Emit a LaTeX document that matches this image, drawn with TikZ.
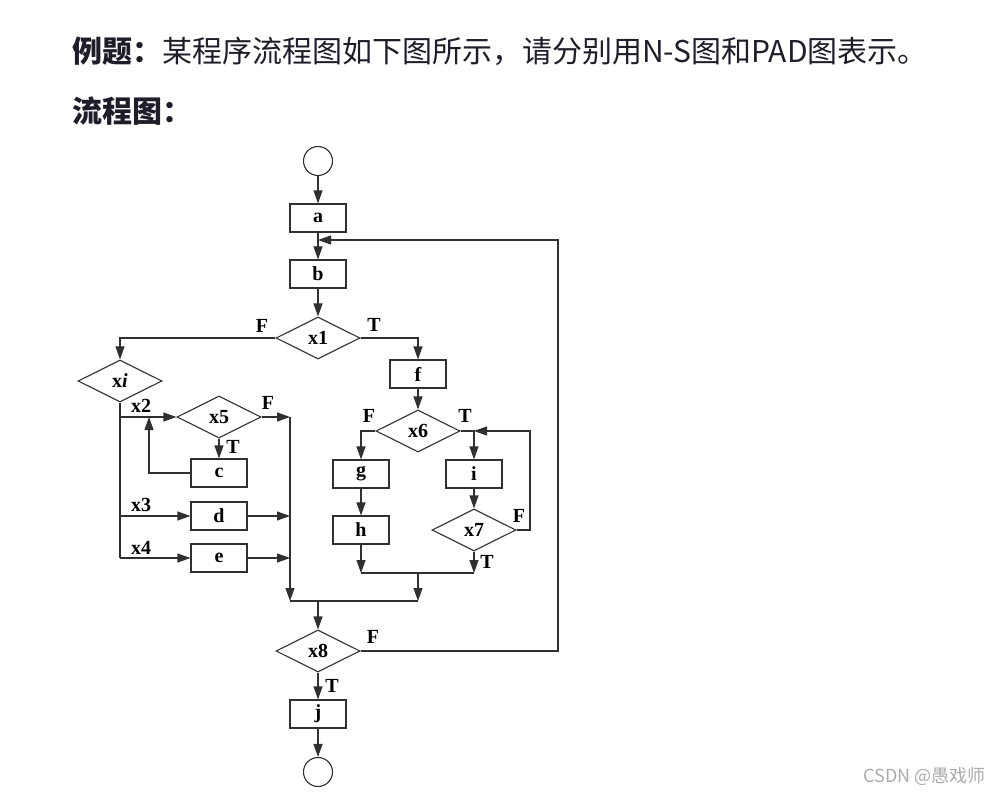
\documentclass[tikz,border=0pt]{standalone}
\usepackage{fontspec}
\newfontfamily\cjk{Noto Sans CJK SC}
\newfontfamily\fcfont{Liberation Serif}
\usetikzlibrary{
  arrows.meta,
  shapes.geometric
}
\definecolor{flowInk}{HTML}{303030}
\definecolor{titleInk}{HTML}{1E1E2A}
\definecolor{markInk}{HTML}{ABABAB}

\tikzset{
  proc/.style={draw=flowInk, line width=1.1pt, minimum width=56pt,
    minimum height=28pt, inner sep=0pt,
    font=\fcfont\bfseries\fontsize{20}{20}\selectfont},
  cond/.style={draw=flowInk, line width=1.1pt, diamond, minimum width=84pt,
    minimum height=42pt, inner sep=0pt,
    font=\fcfont\bfseries\fontsize{20}{20}\selectfont},
  term/.style={draw=flowInk, line width=1.1pt, circle, minimum size=29pt,
    inner sep=0pt},
  flow/.style={draw=flowInk, line width=1.1pt,
    -{Triangle[length=13pt, width=9pt]}},
  wire/.style={draw=flowInk, line width=1.1pt},
  tag/.style={inner sep=0pt, font=\fcfont\bfseries\fontsize{20}{20}\selectfont}
}

\begin{document}
\begin{tikzpicture}[x=1pt, y=-1pt]
  \useasboundingbox (0,0) rectangle (990,794);

  %% --- Heading lines ---
  \node[anchor=west, inner sep=0pt, text=titleInk,
    font=\cjk\fontsize{30}{30}\selectfont] (title) at (72,51)
    {{\bfseries 例题：}某程序流程图如下图所示，请分别用N-S图和PAD图表示。};
  \node[anchor=west, inner sep=0pt, text=titleInk,
    font=\cjk\bfseries\fontsize{30}{30}\selectfont] (subtitle) at (72,111)
    {流程图：};

  %% --- Main column ---
  \node[term] (start) at (318,161) {};
  \node[proc] (a) at (318,218) {a};
  \node[proc] (b) at (318,274) {b};
  \node[cond] (x1) at (318,338) {x1};
  \node[cond] (x8) at (318,651) {x8};
  \node[proc] (j) at (318,714) {j};
  \node[term] (stop) at (318,772) {};

  %% --- Left branch (case xi) ---
  \node[cond] (xi) at (120,381) {x\textit{i}};
  \node[cond] (x5) at (219,417) {x5};
  \node[proc] (c) at (219,473) {c};
  \node[proc] (d) at (219,516) {d};
  \node[proc] (e) at (219,558) {e};

  %% --- Right branch ---
  \node[proc] (f) at (418,374) {f};
  \node[cond] (x6) at (418,431) {x6};
  \node[proc] (g) at (361,474) {g};
  \node[proc] (h) at (361,530) {h};
  \node[proc] (i) at (474,474) {i};
  \node[cond] (x7) at (474,530) {x7};

  %% --- Free ends of connectors ---
  \coordinate (loopIn) at (318,240);
  \coordinate (backTop) at (558,240);
  \coordinate (br2) at (120,417);
  \coordinate (br3) at (120,516);
  \coordinate (br4) at (120,558);
  \coordinate (cBack) at (149,417);
  \coordinate (rail2) at (290,417);
  \coordinate (rail3) at (290,516);
  \coordinate (rail4) at (290,558);
  \coordinate (joinL) at (290,601);
  \coordinate (joinM) at (318,601);
  \coordinate (joinR) at (418,601);
  \coordinate (mergeL) at (361,573);
  \coordinate (mergeM) at (418,573);
  \coordinate (mergeR) at (474,573);
  \coordinate (x6In) at (474,431);
  \coordinate (x7Top) at (530,431);

  %% --- Main flow ---
  \draw[flow] (start) -- (a);
  \draw[flow] (a) -- (b);
  \draw[flow] (b) -- (x1);
  \draw[flow] (x1.west) -| (xi.north);
  \draw[flow] (x1.east) -| (f.north);
  \draw[flow] (joinM) -- (x8);
  \draw[flow] (x8) -- (j);
  \draw[flow] (j) -- (stop);
  \draw[flow] (x8.east) -| (backTop) -- (loopIn);

  %% --- Case branches ---
  \draw[wire] (xi.south) -- (br4);
  \draw[flow] (br2) -- (x5.west);
  \draw[flow] (x5.east) -- (rail2);
  \draw[flow] (x5) -- (c);
  \draw[flow] (c.west) -| (cBack);
  \draw[flow] (br3) -- (d.west);
  \draw[flow] (d.east) -- (rail3);
  \draw[flow] (br4) -- (e.west);
  \draw[flow] (e.east) -- (rail4);
  \draw[flow] (rail2) -- (joinL);
  \draw[wire] (joinL) -- (joinR);

  %% --- Right branch ---
  \draw[flow] (f) -- (x6);
  \draw[flow] (x6.west) -| (g.north);
  \draw[flow] (x6.east) -| (i.north);
  \draw[flow] (g) -- (h);
  \draw[flow] (i) -- (x7);
  \draw[flow] (x7.east) -| (x7Top) -- (x6In);
  \draw[flow] (h.south) -- (mergeL);
  \draw[flow] (x7.south) -- (mergeR);
  \draw[wire] (mergeL) -- (mergeR);
  \draw[flow] (mergeM) -- (joinR);

  %% --- Branch labels ---
  \node[tag] (x1F) at (262,326) {F};
  \node[tag] (x1T) at (374,325) {T};
  \node[tag] (x2) at (141,406) {x2};
  \node[tag] (x3) at (141,505) {x3};
  \node[tag] (x4) at (141,548) {x4};
  \node[tag] (x5F) at (268,403) {F};
  \node[tag] (x5T) at (233,447) {T};
  \node[tag] (x6F) at (369,416) {F};
  \node[tag] (x6T) at (465,416) {T};
  \node[tag] (x7F) at (519,516) {F};
  \node[tag] (x7T) at (487,562) {T};
  \node[tag] (x8F) at (373,637) {F};
  \node[tag] (x8T) at (332,686) {T};

  %% --- Watermark ---
  \node[anchor=east, inner sep=0pt, text=markInk,
    font=\cjk\fontsize{18}{18}\selectfont] (mark) at (986,776)
    {CSDN @愚戏师};
\end{tikzpicture}
\end{document}
